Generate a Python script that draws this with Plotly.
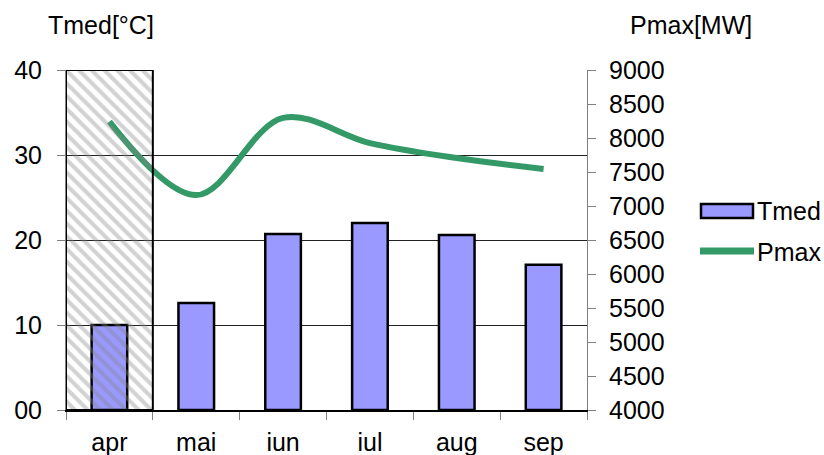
import plotly.graph_objects as go

months = ["apr", "mai", "iun", "iul", "aug", "sep"]
tmed = [10.0, 12.6, 20.7, 22.0, 20.6, 17.1]
pmax = [8240, 7160, 8295, 7925, 7705, 7545]
highlight = ["apr"]
left_ticks = [0, 10, 20, 30, 40]
left_ticktext = ["00", "10", "20", "30", "40"]
right_ticks = list(range(4000, 9001, 500))

BAR_COLOR = "#9999ff"
LINE_COLOR = "#339966"
FONT = "Liberation Sans, Arial, sans-serif"
FS = 25

# plot area at x 66..587, y 70..410 (body margin removed via post_script)
W, H = 824, 455
L, T = 66, 70
R = W - 587
B = H - 410
pw, ph = W - L - R, H - T - B

def px(x):  # screen x -> paper
    return (x - L) / pw

def py(y):  # screen y -> paper
    return (H - B - y) / ph

fig = go.Figure()

fig.add_trace(go.Bar(
    x=months, y=tmed, name="Tmed", width=0.41,
    marker=dict(color=BAR_COLOR, line=dict(color="black", width=2.5)),
    yaxis="y", showlegend=False,
))
fig.add_trace(go.Scatter(
    x=months, y=pmax, name="Pmax", mode="lines",
    line=dict(color=LINE_COLOR, width=6, shape="spline", smoothing=1.0),
    yaxis="y2", showlegend=False,
))
# highlighted (hatched) category
fig.add_trace(go.Bar(
    x=highlight, y=[1], width=1, showlegend=False, hoverinfo="skip",
    marker=dict(color="rgba(0,0,0,0)",
                line=dict(color="black", width=2),
                pattern=dict(shape="\\", fgcolor="rgba(135,135,135,0.75)",
                             bgcolor="rgba(255,255,255,0)", size=9, solidity=0.45)),
    yaxis="y3",
))

shapes = [
    dict(type="rect", xref="paper", yref="paper",
         x0=px(701), x1=px(753), y0=py(218), y1=py(204),
         fillcolor=BAR_COLOR, line=dict(color="black", width=2.5)),
    dict(type="line", xref="paper", yref="paper",
         x0=px(700), x1=px(754), y0=py(251), y1=py(251),
         line=dict(color=LINE_COLOR, width=7)),
]

annotations = [
    dict(text="Tmed[°C]", x=px(101), y=py(25)),
    dict(text="Pmax[MW]", x=px(691), y=py(25)),
    dict(text="Tmed", x=px(755), y=py(211), xanchor="left"),
    dict(text="Pmax", x=px(755), y=py(252), xanchor="left"),
]
for a in annotations:
    a.update(xref="paper", yref="paper", showarrow=False, yanchor="middle",
             font=dict(size=FS))
    a.setdefault("xanchor", "center")

fig.update_layout(
    width=W, height=H,
    margin=dict(l=L, r=R, t=T, b=B, autoexpand=False),
    plot_bgcolor="white", paper_bgcolor="white",
    font=dict(family=FONT, size=FS, color="black"),
    barmode="overlay",
    showlegend=False,
    hovermode=False,
    xaxis=dict(
        type="category", categoryorder="array", categoryarray=months,
        tickson="boundaries", ticks="outside", ticklen=8, tickcolor="#808080",
        showline=True, linecolor="black", linewidth=2, showgrid=False,
        tickfont=dict(size=FS), range=[-0.5, 5.5], ticklabelstandoff=9,
        automargin=False,
    ),
    yaxis=dict(
        range=[0, 40], tickvals=left_ticks, ticktext=left_ticktext,
        ticks="outside", ticklen=8, tickcolor="#808080",
        showline=True, linecolor="#808080", linewidth=1,
        showgrid=True, gridcolor="#222222", gridwidth=1,
        zeroline=False, tickfont=dict(size=FS), ticklabelstandoff=10,
        automargin=False,
    ),
    yaxis2=dict(
        range=[4000, 9000], tickvals=right_ticks, overlaying="y", side="right",
        ticks="outside", ticklen=8, tickcolor="#808080",
        showline=True, linecolor="#808080", linewidth=1,
        showgrid=False, zeroline=False, tickfont=dict(size=FS),
        ticklabelstandoff=8, automargin=False,
    ),
    yaxis3=dict(range=[0, 1], overlaying="y", visible=False, fixedrange=True,
                automargin=False),
    shapes=shapes,
    annotations=annotations,
)

fig.write_html(
    "out.html",
    config={"displayModeBar": False, "staticPlot": True},
    post_script="document.body.style.margin='0';document.body.style.overflow='hidden';",
)
